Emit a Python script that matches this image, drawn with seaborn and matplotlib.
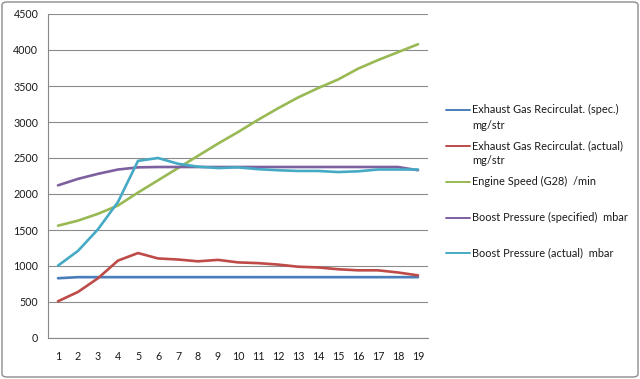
import matplotlib
matplotlib.use("Agg")
import matplotlib.pyplot as plt
from matplotlib.patches import FancyBboxPatch
from matplotlib.lines import Line2D
import seaborn as sns
import pandas as pd

categories = list(range(1, 20))
egr_spec = [830, 845, 845, 845, 845, 845, 845, 845, 845, 845, 845, 845, 845, 845, 845, 845, 845, 845, 845]
egr_actual = [510, 640, 830, 1075, 1180, 1105, 1090, 1065, 1085, 1050, 1040, 1020, 990, 980, 955, 940, 940, 910, 870]
engine_speed = [1560, 1630, 1725, 1840, 2020, 2190, 2360, 2530, 2700, 2860, 3030, 3190, 3340, 3470, 3590, 3740, 3860, 3970, 4080]
boost_spec = [2120, 2210, 2280, 2340, 2370, 2375, 2375, 2375, 2375, 2375, 2375, 2375, 2375, 2375, 2375, 2375, 2375, 2375, 2330]
boost_actual = [1005, 1210, 1510, 1890, 2460, 2500, 2420, 2380, 2360, 2370, 2345, 2330, 2320, 2320, 2305, 2315, 2340, 2340, 2340]

series_names = [
    "Exhaust Gas Recirculat. (spec.)\nmg/str",
    "Exhaust Gas Recirculat. (actual)\nmg/str",
    "Engine Speed (G28)  /min",
    "Boost Pressure (specified)  mbar",
    "Boost Pressure (actual)  mbar",
]
series_values = [egr_spec, egr_actual, engine_speed, boost_spec, boost_actual]
colors = ["#4A7EBB", "#BE4B48", "#98B954", "#7D60A0", "#46AAC5"]

rows = []
for name, vals in zip(series_names, series_values):
    for c, v in zip(categories, vals):
        rows.append({"x": c, "value": v, "series": name})
df = pd.DataFrame(rows)

sns.set_style("white")
plt.rcParams["font.family"] = ["Lato", "DejaVu Sans"]

fig = plt.figure(figsize=(6.4, 3.79), dpi=100)
ax = fig.add_axes([48 / 640, 1 - 338 / 379, 380 / 640, 324 / 379])

sns.lineplot(data=df, x="x", y="value", hue="series", palette=colors,
             hue_order=series_names, linewidth=1.9, ax=ax, legend=False, zorder=3)

ax.set_xlim(0.5, 19.5)
ax.set_ylim(0, 4500)
ax.set_yticks(range(0, 4501, 500))
ax.set_xticks(categories)
ax.set_xticklabels([str(c) for c in categories])
ax.set_xticks([i + 0.5 for i in range(0, 20)], minor=True)
ax.tick_params(axis="x", which="major", length=0, pad=9, labelsize=7.7, colors="#1a1a1a")
ax.tick_params(axis="x", which="minor", length=4, color="#888888", width=0.8)
ax.tick_params(axis="y", which="major", length=4, color="#888888", width=0.8, labelsize=7.7, pad=3)
ax.tick_params(axis="y", colors="#888888", labelcolor="#1a1a1a")
ax.grid(axis="y", color="#8C8C8C", linewidth=0.8, zorder=0)
ax.set_xlabel("")
ax.set_ylabel("")
for s in ["top", "right"]:
    ax.spines[s].set_visible(False)
for s in ["left", "bottom"]:
    ax.spines[s].set_color("#888888")
    ax.spines[s].set_linewidth(0.8)

# legend drawn manually
legend_y = [110, 146, 182, 218, 253]
for name, col, yy in zip(series_names, colors, legend_y):
    yf = 1 - yy / 379
    fig.add_artist(Line2D([446 / 640, 470 / 640], [yf, yf], color=col, linewidth=1.4))
    fig.text(472 / 640, yf + 6 / 379, name, fontsize=7.9, color="#1a1a1a",
             va="top", ha="left", linespacing=1.5)

border = FancyBboxPatch((2 / 640, 2 / 379), 636 / 640, 375 / 379,
                        boxstyle="round,pad=0,rounding_size=0.008",
                        transform=fig.transFigure, fill=False,
                        edgecolor="#8C8C8C", linewidth=1.0)
fig.add_artist(border)

fig.savefig("out.png", dpi=100)
